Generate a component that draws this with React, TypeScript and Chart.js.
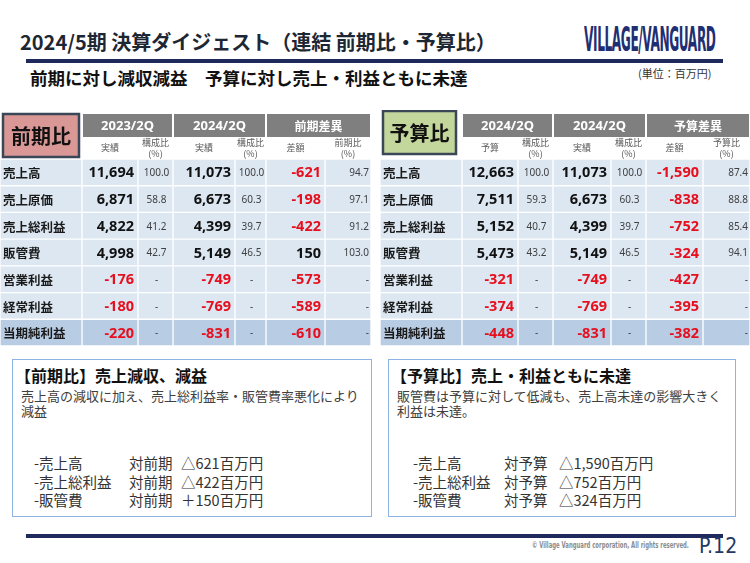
import { useEffect, useRef } from 'react';
import { Chart, registerables } from 'chart.js';

Chart.register(...registerables);

// ---------- data ----------
const rowLabels = ['売上高', '売上原価', '売上総利益', '販管費', '営業利益', '経常利益', '当期純利益'];

const prev2023 = [11694, 6871, 4822, 4998, -176, -180, -220];
const prev2023Ratio = [100.0, 58.8, 41.2, 42.7, null, null, null];
const actual2024 = [11073, 6673, 4399, 5149, -749, -769, -831];
const actual2024Ratio = [100.0, 60.3, 39.7, 46.5, null, null, null];
const diffPrev = [-621, -198, -422, 150, -573, -589, -610];
const pctPrev = [94.7, 97.1, 91.2, 103.0, null, null, null];

const budget2024 = [12663, 7511, 5152, 5473, -321, -374, -448];
const budgetRatio = [100.0, 59.3, 40.7, 43.2, null, null, null];
const diffBudget = [-1590, -838, -752, -324, -427, -395, -382];
const pctBudget = [87.4, 88.8, 85.4, 94.1, null, null, null];

const prevGroups = ['2023/2Q', '2024/2Q', '前期差異'];
const prevSubs = ['実績', '構成比\n(%)', '実績', '構成比\n(%)', '差額', '前期比\n(%)'];
const budgetGroups = ['2024/2Q', '2024/2Q', '予算差異'];
const budgetSubs = ['予算', '構成比\n(%)', '実績', '構成比\n(%)', '差額', '予算比\n(%)'];

const prevNotes = [
  ['-売上高', '対前期', '△621百万円'],
  ['-売上総利益', '対前期', '△422百万円'],
  ['-販管費', '対前期', '＋150百万円'],
];
const budgetNotes = [
  ['-売上高', '対予算', '△1,590百万円'],
  ['-売上総利益', '対予算', '△752百万円'],
  ['-販管費', '対予算', '△324百万円'],
];

// ---------- styles ----------
const CJK = "'Noto Sans CJK JP', 'Noto Sans', sans-serif";
const NUM = "'Noto Sans', 'Noto Sans CJK JP', sans-serif";
const NAVY = '#1f2a5c';
const ROW_FILL = '#dce7f2';
const TOTAL_FILL = '#b8cce4';
const RED = '#e60f1e';

type Kind = 'label' | 'big' | 'small' | 'pct';
type Col = { kind: Kind; values?: (number | null)[] };

type TableCfg = {
  left: number;
  top: number;
  width: number;
  height: number;
  widths: number[];
  cols: Col[];
  groups: string[];
  subs: string[];
  box: { text: string; fill: string; x: number; y: number; w: number; h: number };
};

const prevTable: TableCfg = {
  left: 0,
  top: 110,
  width: 371,
  height: 240,
  widths: [82, 56, 35, 62, 31, 59, 46],
  cols: [
    { kind: 'label' },
    { kind: 'big', values: prev2023 },
    { kind: 'small', values: prev2023Ratio },
    { kind: 'big', values: actual2024 },
    { kind: 'small', values: actual2024Ratio },
    { kind: 'big', values: diffPrev },
    { kind: 'pct', values: pctPrev },
  ],
  groups: prevGroups,
  subs: prevSubs,
  box: { text: '前期比', fill: '#d99795', x: 3, y: 4, w: 76, h: 43 },
};

const budgetTable: TableCfg = {
  left: 380,
  top: 110,
  width: 370,
  height: 240,
  widths: [82, 56, 35, 58, 35, 57, 47],
  cols: [
    { kind: 'label' },
    { kind: 'big', values: budget2024 },
    { kind: 'small', values: budgetRatio },
    { kind: 'big', values: actual2024 },
    { kind: 'small', values: actual2024Ratio },
    { kind: 'big', values: diffBudget },
    { kind: 'pct', values: pctBudget },
  ],
  groups: budgetGroups,
  subs: budgetSubs,
  box: { text: '予算比', fill: '#c3d69b', x: 3, y: 1, w: 73, h: 43 },
};

const HDR_TOP = 4;
const HDR_BOTTOM = 27;

function TableChart({ cfg }: { cfg: TableCfg }) {
  const ref = useRef<HTMLCanvasElement>(null);
  useEffect(() => {
    if (!ref.current) return;
    const edges: number[] = [0];
    cfg.widths.forEach((w) => edges.push(edges[edges.length - 1] + w));
    const last = rowLabels.length - 1;
    const datasets = cfg.cols.map((_, ci) => ({
      label: 'col' + ci,
      data: rowLabels.map(() => [edges[ci], edges[ci + 1]]),
      backgroundColor: rowLabels.map((_, ri) => (ri === last ? TOTAL_FILL : ROW_FILL)),
      borderColor: '#ffffff',
      borderWidth: 1,
      borderSkipped: false,
      barPercentage: 1,
      categoryPercentage: 1,
      grouped: false,
    }));

    const textPlugin = {
      id: 'tableText',
      afterDatasetsDraw(chart: any) {
        const ctx = chart.ctx as CanvasRenderingContext2D;
        const area = chart.chartArea;
        const xs = chart.scales.x;
        const px = (v: number) => xs.getPixelForValue(v);
        ctx.save();
        ctx.textBaseline = 'middle';

        // label box
        const b = cfg.box;
        ctx.fillStyle = b.fill;
        ctx.fillRect(b.x, b.y, b.w, b.h);
        ctx.lineWidth = 2.5;
        ctx.strokeStyle = '#3a4757';
        ctx.strokeRect(b.x, b.y, b.w, b.h);
        ctx.fillStyle = '#111111';
        ctx.textAlign = 'center';
        ctx.font = `bold 20px ${CJK}`;
        ctx.fillText(b.text, b.x + b.w / 2, b.y + b.h / 2 + 1);

        // group headers
        cfg.groups.forEach((g, gi) => {
          const x0 = px(edges[1 + gi * 2]) + 1;
          const x1 = px(edges[3 + gi * 2]) - 1;
          ctx.fillStyle = '#7f7f7f';
          ctx.fillRect(x0, HDR_TOP, x1 - x0, HDR_BOTTOM - HDR_TOP);
          ctx.fillStyle = '#ffffff';
          ctx.font = /^[0-9]/.test(g) ? `bold 13px ${NUM}` : `bold 12px ${CJK}`;
          ctx.fillText(g, (x0 + x1) / 2, (HDR_TOP + HDR_BOTTOM) / 2 + 1);
        });

        // sub headers
        const mid = (HDR_BOTTOM + area.top) / 2;
        cfg.subs.forEach((s, si) => {
          const ci = si + 1;
          const cx = (px(edges[ci]) + px(edges[ci + 1])) / 2;
          const lines = s.split('\n');
          ctx.fillStyle = '#595959';
          ctx.font = `9px ${CJK}`;
          lines.forEach((ln, li) => {
            ctx.fillText(ln, cx, mid + (li - (lines.length - 1) / 2) * 11.5);
          });
        });

        // cell texts
        chart.data.datasets.forEach((_: any, ci: number) => {
          const col = cfg.cols[ci];
          const meta = chart.getDatasetMeta(ci);
          meta.data.forEach((el: any, ri: number) => {
            const { x, y, base } = el.getProps(['x', 'y', 'base'], true);
            const left = Math.min(x, base);
            const right = Math.max(x, base);
            const cy = y + 1;
            if (col.kind === 'label') {
              ctx.textAlign = 'left';
              ctx.fillStyle = '#1a1a1a';
              ctx.font = `bold 12.5px ${CJK}`;
              ctx.fillText(rowLabels[ri], left + 3, cy);
              return;
            }
            const v = col.values ? col.values[ri] : null;
            if (col.kind === 'big') {
              ctx.textAlign = 'right';
              ctx.fillStyle = v !== null && v < 0 ? RED : '#111111';
              ctx.font = `bold 14.5px ${NUM}`;
              ctx.fillText(v === null ? '-' : v.toLocaleString('en-US'), right - 4, cy);
            } else {
              ctx.fillStyle = '#404040';
              ctx.font = `10px ${NUM}`;
              const t = v === null ? '-' : v.toFixed(1);
              if (col.kind === 'pct') {
                ctx.textAlign = 'right';
                ctx.fillText(t, right - 2, cy);
              } else {
                ctx.textAlign = 'center';
                ctx.fillText(t, (left + right) / 2 + 1, cy);
              }
            }
          });
        });
        ctx.restore();
      },
    };

    const chart = new Chart(ref.current, {
      type: 'bar',
      data: { labels: rowLabels, datasets: datasets as any },
      options: {
        indexAxis: 'y',
        responsive: false,
        animation: false,
        layout: { padding: { top: 49, bottom: 4, left: 0, right: 0 } },
        plugins: { legend: { display: false }, tooltip: { enabled: false } },
        scales: {
          x: { type: 'linear', min: 0, max: edges[edges.length - 1], display: false },
          y: { type: 'category', display: false, offset: true },
        },
      },
      plugins: [textPlugin],
    });
    return () => chart.destroy();
  }, [cfg]);
  return (
    <canvas
      ref={ref}
      width={cfg.width}
      height={cfg.height}
      style={{ position: 'absolute', left: cfg.left, top: cfg.top, width: cfg.width, height: cfg.height }}
    />
  );
}

function NoteBox({
  left,
  width,
  title,
  body,
  notes,
  xs,
}: {
  left: number;
  width: number;
  title: string;
  body: string[];
  notes: string[][];
  xs: number[];
}) {
  return (
    <div
      style={{
        position: 'absolute',
        left,
        top: 359,
        width,
        height: 158,
        border: '1.5px solid #8db3e2',
        boxSizing: 'border-box',
        background: '#fff',
      }}
    >
      <div
        style={{
          position: 'absolute',
          left: 2,
          top: 7,
          fontSize: 16,
          lineHeight: '16px',
          fontWeight: 700,
          color: '#111',
          whiteSpace: 'nowrap',
        }}
      >
        {title}
      </div>
      <div
        style={{
          position: 'absolute',
          left: 8,
          top: 29,
          fontSize: 13,
          lineHeight: '14.5px',
          color: '#404040',
          whiteSpace: 'nowrap',
        }}
      >
        {body.map((b, i) => (
          <div key={i}>{b}</div>
        ))}
      </div>
      {notes.map((n, ri) => (
        <div key={ri} style={{ position: 'absolute', left: 0, top: 94 + ri * 18.5, height: 18, width: '100%' }}>
          {n.map((t, ci) => (
            <span
              key={ci}
              style={{
                position: 'absolute',
                left: xs[ci],
                top: 0,
                fontSize: 14.5,
                lineHeight: '18px',
                color: '#333',
                whiteSpace: 'nowrap',
              }}
            >
              {t}
            </span>
          ))}
        </div>
      ))}
    </div>
  );
}

export default function App() {
  useEffect(() => {
    document.body.style.margin = '0';
  }, []);
  return (
    <div
      style={{
        position: 'absolute',
        left: 0,
        top: 0,
        width: 750,
        height: 563,
        background: '#ffffff',
        overflow: 'hidden',
        fontFamily: CJK,
      }}
    >
      <div
        style={{
          position: 'absolute',
          left: 20,
          top: 32,
          fontSize: 20,
          lineHeight: '20px',
          fontWeight: 700,
          color: '#1d2733',
          whiteSpace: 'nowrap',
        }}
      >
        2024/5期 決算ダイジェスト（連結 前期比・予算比）
      </div>
      <div
        style={{
          position: 'absolute',
          left: 584,
          top: 23,
          fontSize: 33,
          lineHeight: '33px',
          fontWeight: 700,
          color: '#1f2f73',
          fontFamily: "'DejaVu Sans Condensed', 'DejaVu Sans', sans-serif",
          whiteSpace: 'nowrap',
          transform: 'scaleX(0.41)',
          transformOrigin: 'left top',
          letterSpacing: '-1px',
        }}
      >
        VILLAGE/VANGUARD
      </div>
      <div style={{ position: 'absolute', left: 26, top: 59, width: 697, height: 4, background: NAVY }} />
      <div
        style={{
          position: 'absolute',
          left: 30,
          top: 69,
          fontSize: 17.5,
          lineHeight: '17.5px',
          fontWeight: 700,
          color: '#111',
          whiteSpace: 'nowrap',
        }}
      >
        前期に対し減収減益　予算に対し売上・利益ともに未達
      </div>
      <div
        style={{
          position: 'absolute',
          left: 638,
          top: 68,
          fontSize: 11,
          lineHeight: '11px',
          color: '#333',
          whiteSpace: 'nowrap',
        }}
      >
        (単位：百万円)
      </div>

      <TableChart cfg={prevTable} />
      <TableChart cfg={budgetTable} />

      <NoteBox
        left={12}
        width={360}
        title="【前期比】売上減収、減益"
        body={['売上高の減収に加え、売上総利益率・販管費率悪化により', '減益']}
        notes={prevNotes}
        xs={[21, 116, 168]}
      />
      <NoteBox
        left={388}
        width={348}
        title="【予算比】売上・利益ともに未達"
        body={['販管費は予算に対して低減も、売上高未達の影響大きく', '利益は未達。']}
        notes={budgetNotes}
        xs={[24, 115, 170]}
      />

      <div style={{ position: 'absolute', left: 26, top: 534, width: 697, height: 4, background: NAVY }} />
      <div
        style={{
          position: 'absolute',
          left: 532,
          top: 542,
          fontSize: 8,
          lineHeight: '8px',
          fontWeight: 700,
          color: '#8c8c8c',
          fontFamily: "'DejaVu Sans Condensed', 'DejaVu Sans', sans-serif",
          whiteSpace: 'nowrap',
          transform: 'scaleX(0.74)',
          transformOrigin: 'left top',
        }}
      >
        © Village Vanguard corporation, All rights reserved.
      </div>
      <div
        style={{
          position: 'absolute',
          left: 699,
          top: 536,
          fontSize: 21,
          lineHeight: '21px',
          color: '#1f3864',
          fontFamily: "'DejaVu Sans Condensed', 'DejaVu Sans', sans-serif",
          whiteSpace: 'nowrap',
        }}
      >
        P.12
      </div>
    </div>
  );
}
